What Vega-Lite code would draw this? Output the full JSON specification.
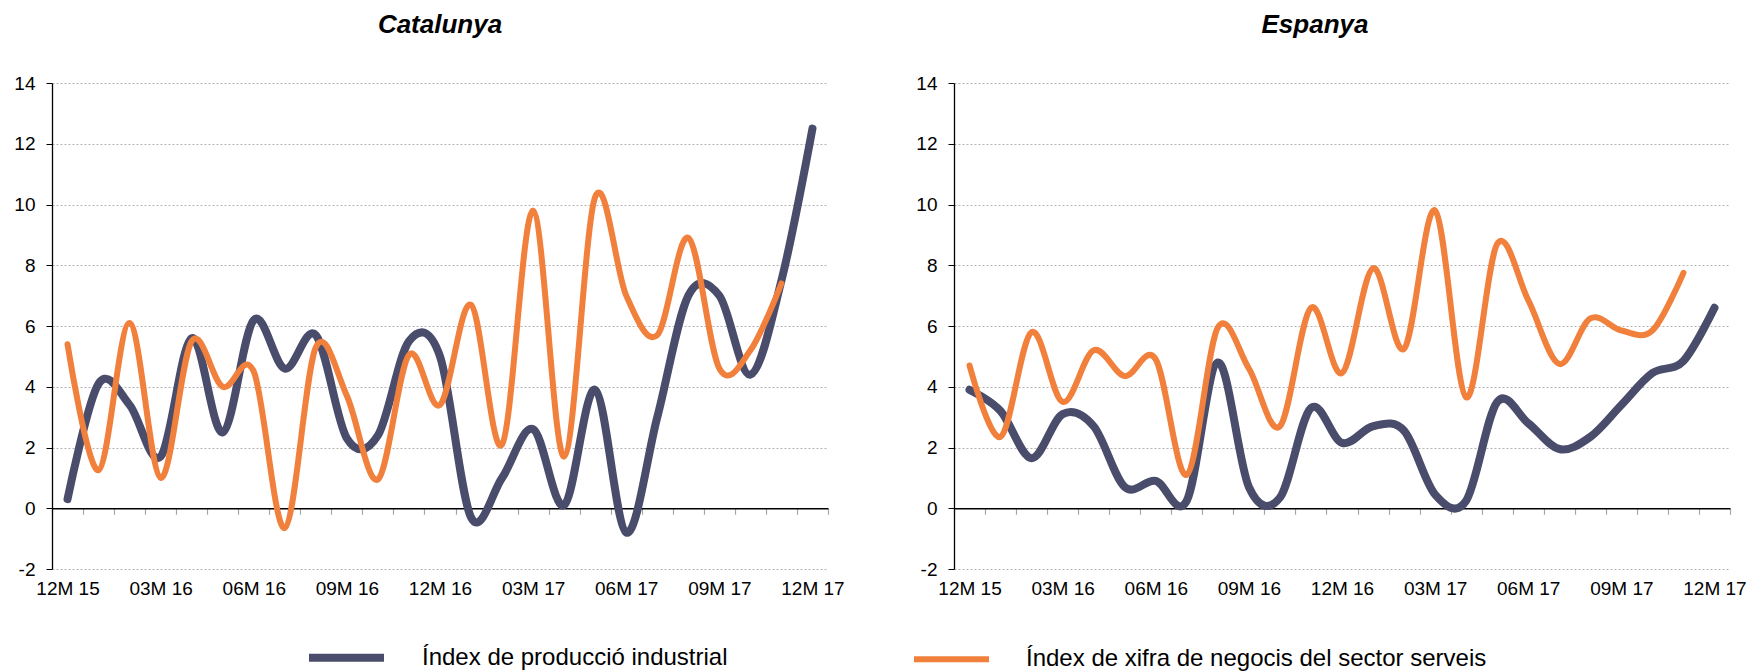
{
  "$schema": "https://vega.github.io/schema/vega-lite/v6.json",
  "background": "white",
  "padding": {"left": 13, "top": 12, "right": 0, "bottom": 0},
  "autosize": {"type": "pad"},
  "config": {
    "view": {"stroke": null},
    "font": "Liberation Sans"
  },
  "bounds": "flush",
  "spacing": 126,
  "data": {"values": [
    {"region":"Catalunya","series":"Índex de producció industrial","month":"12M 15","value":0.3},
    {"region":"Catalunya","series":"Índex de producció industrial","month":"01M 16","value":4.1},
    {"region":"Catalunya","series":"Índex de producció industrial","month":"02M 16","value":3.4},
    {"region":"Catalunya","series":"Índex de producció industrial","month":"03M 16","value":1.7},
    {"region":"Catalunya","series":"Índex de producció industrial","month":"04M 16","value":5.6},
    {"region":"Catalunya","series":"Índex de producció industrial","month":"05M 16","value":2.5},
    {"region":"Catalunya","series":"Índex de producció industrial","month":"06M 16","value":6.2},
    {"region":"Catalunya","series":"Índex de producció industrial","month":"07M 16","value":4.6},
    {"region":"Catalunya","series":"Índex de producció industrial","month":"08M 16","value":5.7},
    {"region":"Catalunya","series":"Índex de producció industrial","month":"09M 16","value":2.3},
    {"region":"Catalunya","series":"Índex de producció industrial","month":"10M 16","value":2.4},
    {"region":"Catalunya","series":"Índex de producció industrial","month":"11M 16","value":5.5},
    {"region":"Catalunya","series":"Índex de producció industrial","month":"12M 16","value":5.0},
    {"region":"Catalunya","series":"Índex de producció industrial","month":"01M 17","value":-0.3},
    {"region":"Catalunya","series":"Índex de producció industrial","month":"02M 17","value":1.0},
    {"region":"Catalunya","series":"Índex de producció industrial","month":"03M 17","value":2.6},
    {"region":"Catalunya","series":"Índex de producció industrial","month":"04M 17","value":0.1},
    {"region":"Catalunya","series":"Índex de producció industrial","month":"05M 17","value":3.9},
    {"region":"Catalunya","series":"Índex de producció industrial","month":"06M 17","value":-0.8},
    {"region":"Catalunya","series":"Índex de producció industrial","month":"07M 17","value":3.0},
    {"region":"Catalunya","series":"Índex de producció industrial","month":"08M 17","value":7.0},
    {"region":"Catalunya","series":"Índex de producció industrial","month":"09M 17","value":7.0},
    {"region":"Catalunya","series":"Índex de producció industrial","month":"10M 17","value":4.4},
    {"region":"Catalunya","series":"Índex de producció industrial","month":"11M 17","value":7.5},
    {"region":"Catalunya","series":"Índex de producció industrial","month":"12M 17","value":12.5},
    {"region":"Catalunya","series":"Índex de xifra de negocis del sector serveis","month":"12M 15","value":5.4},
    {"region":"Catalunya","series":"Índex de xifra de negocis del sector serveis","month":"01M 16","value":1.25},
    {"region":"Catalunya","series":"Índex de xifra de negocis del sector serveis","month":"02M 16","value":6.1},
    {"region":"Catalunya","series":"Índex de xifra de negocis del sector serveis","month":"03M 16","value":1.0},
    {"region":"Catalunya","series":"Índex de xifra de negocis del sector serveis","month":"04M 16","value":5.5},
    {"region":"Catalunya","series":"Índex de xifra de negocis del sector serveis","month":"05M 16","value":4.0},
    {"region":"Catalunya","series":"Índex de xifra de negocis del sector serveis","month":"06M 16","value":4.5},
    {"region":"Catalunya","series":"Índex de xifra de negocis del sector serveis","month":"07M 16","value":-0.65},
    {"region":"Catalunya","series":"Índex de xifra de negocis del sector serveis","month":"08M 16","value":5.3},
    {"region":"Catalunya","series":"Índex de xifra de negocis del sector serveis","month":"09M 16","value":3.7},
    {"region":"Catalunya","series":"Índex de xifra de negocis del sector serveis","month":"10M 16","value":0.95},
    {"region":"Catalunya","series":"Índex de xifra de negocis del sector serveis","month":"11M 16","value":5.05},
    {"region":"Catalunya","series":"Índex de xifra de negocis del sector serveis","month":"12M 16","value":3.4},
    {"region":"Catalunya","series":"Índex de xifra de negocis del sector serveis","month":"01M 17","value":6.7},
    {"region":"Catalunya","series":"Índex de xifra de negocis del sector serveis","month":"02M 17","value":2.1},
    {"region":"Catalunya","series":"Índex de xifra de negocis del sector serveis","month":"03M 17","value":9.8},
    {"region":"Catalunya","series":"Índex de xifra de negocis del sector serveis","month":"04M 17","value":1.7},
    {"region":"Catalunya","series":"Índex de xifra de negocis del sector serveis","month":"05M 17","value":10.25},
    {"region":"Catalunya","series":"Índex de xifra de negocis del sector serveis","month":"06M 17","value":7.0},
    {"region":"Catalunya","series":"Índex de xifra de negocis del sector serveis","month":"07M 17","value":5.7},
    {"region":"Catalunya","series":"Índex de xifra de negocis del sector serveis","month":"08M 17","value":8.9},
    {"region":"Catalunya","series":"Índex de xifra de negocis del sector serveis","month":"09M 17","value":4.6},
    {"region":"Catalunya","series":"Índex de xifra de negocis del sector serveis","month":"10M 17","value":5.2},
    {"region":"Catalunya","series":"Índex de xifra de negocis del sector serveis","month":"11M 17","value":7.4},
    {"region":"Espanya","series":"Índex de producció industrial","month":"12M 15","value":3.9},
    {"region":"Espanya","series":"Índex de producció industrial","month":"01M 16","value":3.2},
    {"region":"Espanya","series":"Índex de producció industrial","month":"02M 16","value":1.65},
    {"region":"Espanya","series":"Índex de producció industrial","month":"03M 16","value":3.1},
    {"region":"Espanya","series":"Índex de producció industrial","month":"04M 16","value":2.7},
    {"region":"Espanya","series":"Índex de producció industrial","month":"05M 16","value":0.7},
    {"region":"Espanya","series":"Índex de producció industrial","month":"06M 16","value":0.9},
    {"region":"Espanya","series":"Índex de producció industrial","month":"07M 16","value":0.25},
    {"region":"Espanya","series":"Índex de producció industrial","month":"08M 16","value":4.8},
    {"region":"Espanya","series":"Índex de producció industrial","month":"09M 16","value":0.7},
    {"region":"Espanya","series":"Índex de producció industrial","month":"10M 16","value":0.35},
    {"region":"Espanya","series":"Índex de producció industrial","month":"11M 16","value":3.3},
    {"region":"Espanya","series":"Índex de producció industrial","month":"12M 16","value":2.15},
    {"region":"Espanya","series":"Índex de producció industrial","month":"01M 17","value":2.7},
    {"region":"Espanya","series":"Índex de producció industrial","month":"02M 17","value":2.55},
    {"region":"Espanya","series":"Índex de producció industrial","month":"03M 17","value":0.45},
    {"region":"Espanya","series":"Índex de producció industrial","month":"04M 17","value":0.25},
    {"region":"Espanya","series":"Índex de producció industrial","month":"05M 17","value":3.5},
    {"region":"Espanya","series":"Índex de producció industrial","month":"06M 17","value":2.8},
    {"region":"Espanya","series":"Índex de producció industrial","month":"07M 17","value":1.95},
    {"region":"Espanya","series":"Índex de producció industrial","month":"08M 17","value":2.35},
    {"region":"Espanya","series":"Índex de producció industrial","month":"09M 17","value":3.4},
    {"region":"Espanya","series":"Índex de producció industrial","month":"10M 17","value":4.45},
    {"region":"Espanya","series":"Índex de producció industrial","month":"11M 17","value":4.85},
    {"region":"Espanya","series":"Índex de producció industrial","month":"12M 17","value":6.6},
    {"region":"Espanya","series":"Índex de xifra de negocis del sector serveis","month":"12M 15","value":4.7},
    {"region":"Espanya","series":"Índex de xifra de negocis del sector serveis","month":"01M 16","value":2.35},
    {"region":"Espanya","series":"Índex de xifra de negocis del sector serveis","month":"02M 16","value":5.8},
    {"region":"Espanya","series":"Índex de xifra de negocis del sector serveis","month":"03M 16","value":3.5},
    {"region":"Espanya","series":"Índex de xifra de negocis del sector serveis","month":"04M 16","value":5.2},
    {"region":"Espanya","series":"Índex de xifra de negocis del sector serveis","month":"05M 16","value":4.35},
    {"region":"Espanya","series":"Índex de xifra de negocis del sector serveis","month":"06M 16","value":4.9},
    {"region":"Espanya","series":"Índex de xifra de negocis del sector serveis","month":"07M 16","value":1.1},
    {"region":"Espanya","series":"Índex de xifra de negocis del sector serveis","month":"08M 16","value":5.95},
    {"region":"Espanya","series":"Índex de xifra de negocis del sector serveis","month":"09M 16","value":4.6},
    {"region":"Espanya","series":"Índex de xifra de negocis del sector serveis","month":"10M 16","value":2.7},
    {"region":"Espanya","series":"Índex de xifra de negocis del sector serveis","month":"11M 16","value":6.6},
    {"region":"Espanya","series":"Índex de xifra de negocis del sector serveis","month":"12M 16","value":4.45},
    {"region":"Espanya","series":"Índex de xifra de negocis del sector serveis","month":"01M 17","value":7.9},
    {"region":"Espanya","series":"Índex de xifra de negocis del sector serveis","month":"02M 17","value":5.25},
    {"region":"Espanya","series":"Índex de xifra de negocis del sector serveis","month":"03M 17","value":9.8},
    {"region":"Espanya","series":"Índex de xifra de negocis del sector serveis","month":"04M 17","value":3.65},
    {"region":"Espanya","series":"Índex de xifra de negocis del sector serveis","month":"05M 17","value":8.7},
    {"region":"Espanya","series":"Índex de xifra de negocis del sector serveis","month":"06M 17","value":6.85},
    {"region":"Espanya","series":"Índex de xifra de negocis del sector serveis","month":"07M 17","value":4.75},
    {"region":"Espanya","series":"Índex de xifra de negocis del sector serveis","month":"08M 17","value":6.25},
    {"region":"Espanya","series":"Índex de xifra de negocis del sector serveis","month":"09M 17","value":5.85},
    {"region":"Espanya","series":"Índex de xifra de negocis del sector serveis","month":"10M 17","value":5.85},
    {"region":"Espanya","series":"Índex de xifra de negocis del sector serveis","month":"11M 17","value":7.75}
  ]},
  "hconcat": [
    {
      "title": {"text": "Catalunya", "fontSize": 26, "font": "Liberation Sans", "fontStyle": "italic", "fontWeight": "bold", "color": "black", "anchor": "middle", "baseline": "alphabetic", "frame": "group", "offset": 15},
      "width": 776, "height": 486,
      "transform": [{"filter": "datum.region === 'Catalunya'"}],
      "mark": {"type": "line", "interpolate": "cardinal", "strokeCap": "round", "strokeJoin": "round"},
      "encoding": {
        "x": {"field": "month", "type": "ordinal",
          "sort": ["12M 15","01M 16","02M 16","03M 16","04M 16","05M 16","06M 16","07M 16","08M 16","09M 16","10M 16","11M 16","12M 16","01M 17","02M 17","03M 17","04M 17","05M 17","06M 17","07M 17","08M 17","09M 17","10M 17","11M 17","12M 17"],
          "scale": {"type": "band", "paddingInner": 0, "paddingOuter": 0},
          "axis": {"title": null, "offset": -60.75, "domainColor": "black", "domainWidth": 1.3, "tickColor": "#a6a6a6", "tickSize": 6, "tickWidth": 1.2, "tickBand": "extent", "labelPadding": 65, "labelFontSize": 19, "labelFont": "Liberation Sans", "labelColor": "black", "labelAngle": 0, "labelOverlap": false, "labelExpr": "test(/^(03|06|09|12)M/, datum.value) ? datum.value : ''", "grid": false}},
        "y": {"field": "value", "type": "quantitative",
          "scale": {"domain": [-2, 14], "nice": false, "zero": false},
          "axis": {"title": null, "values": [-2,0,2,4,6,8,10,12,14], "labelExpr": "replace(datum.label, '−', '-')", "domainColor": "black", "domainWidth": 1.3, "tickColor": "black", "tickSize": 6, "labelPadding": 11, "labelFontSize": 19, "labelFont": "Liberation Sans", "labelColor": "black", "grid": true, "gridColor": "#b3b3b3", "gridDash": [2, 2], "gridWidth": 1}},
        "color": {"field": "series", "type": "nominal",
          "scale": {"domain": ["Índex de producció industrial", "Índex de xifra de negocis del sector serveis"], "range": ["#4a4c6c", "#f0803c"]},
          "legend": {"orient": "none", "legendX": 253, "legendY": 533, "direction": "horizontal", "title": null, "symbolType": "stroke", "symbolSize": 5625, "symbolStrokeWidth": 5.5, "labelFontSize": 24, "labelFont": "Liberation Sans", "labelColor": "black", "labelOffset": 34, "columnPadding": 174, "labelLimit": 1000}},
        "strokeWidth": {"field": "series", "type": "nominal", "scale": {"domain": ["Índex de producció industrial", "Índex de xifra de negocis del sector serveis"], "range": [8, 6]}, "legend": null}
      }
    },
    {
      "title": {"text": "Espanya", "fontSize": 26, "font": "Liberation Sans", "fontStyle": "italic", "fontWeight": "bold", "color": "black", "anchor": "middle", "baseline": "alphabetic", "frame": "group", "offset": 15, "dx": -27},
      "width": 776, "height": 486,
      "transform": [{"filter": "datum.region === 'Espanya'"}],
      "mark": {"type": "line", "interpolate": "cardinal", "strokeCap": "round", "strokeJoin": "round"},
      "encoding": {
        "x": {"field": "month", "type": "ordinal",
          "sort": ["12M 15","01M 16","02M 16","03M 16","04M 16","05M 16","06M 16","07M 16","08M 16","09M 16","10M 16","11M 16","12M 16","01M 17","02M 17","03M 17","04M 17","05M 17","06M 17","07M 17","08M 17","09M 17","10M 17","11M 17","12M 17"],
          "scale": {"type": "band", "paddingInner": 0, "paddingOuter": 0},
          "axis": {"title": null, "offset": -60.75, "domainColor": "black", "domainWidth": 1.3, "tickColor": "#a6a6a6", "tickSize": 6, "tickWidth": 1.2, "tickBand": "extent", "labelPadding": 65, "labelFontSize": 19, "labelFont": "Liberation Sans", "labelColor": "black", "labelAngle": 0, "labelOverlap": false, "labelExpr": "test(/^(03|06|09|12)M/, datum.value) ? datum.value : ''", "grid": false}},
        "y": {"field": "value", "type": "quantitative",
          "scale": {"domain": [-2, 14], "nice": false, "zero": false},
          "axis": {"title": null, "values": [-2,0,2,4,6,8,10,12,14], "labelExpr": "replace(datum.label, '−', '-')", "domainColor": "black", "domainWidth": 1.3, "tickColor": "black", "tickSize": 6, "labelPadding": 11, "labelFontSize": 19, "labelFont": "Liberation Sans", "labelColor": "black", "grid": true, "gridColor": "#b3b3b3", "gridDash": [2, 2], "gridWidth": 1}},
        "color": {"field": "series", "type": "nominal",
          "scale": {"domain": ["Índex de producció industrial", "Índex de xifra de negocis del sector serveis"], "range": ["#4a4c6c", "#f0803c"]},
          "legend": {"orient": "none", "legendX": 253, "legendY": 533, "direction": "horizontal", "title": null, "symbolType": "stroke", "symbolSize": 5625, "symbolStrokeWidth": 5.5, "labelFontSize": 24, "labelFont": "Liberation Sans", "labelColor": "black", "labelOffset": 34, "columnPadding": 174, "labelLimit": 1000}},
        "strokeWidth": {"field": "series", "type": "nominal", "scale": {"domain": ["Índex de producció industrial", "Índex de xifra de negocis del sector serveis"], "range": [8, 6]}, "legend": null}
      }
    }
  ]
}
